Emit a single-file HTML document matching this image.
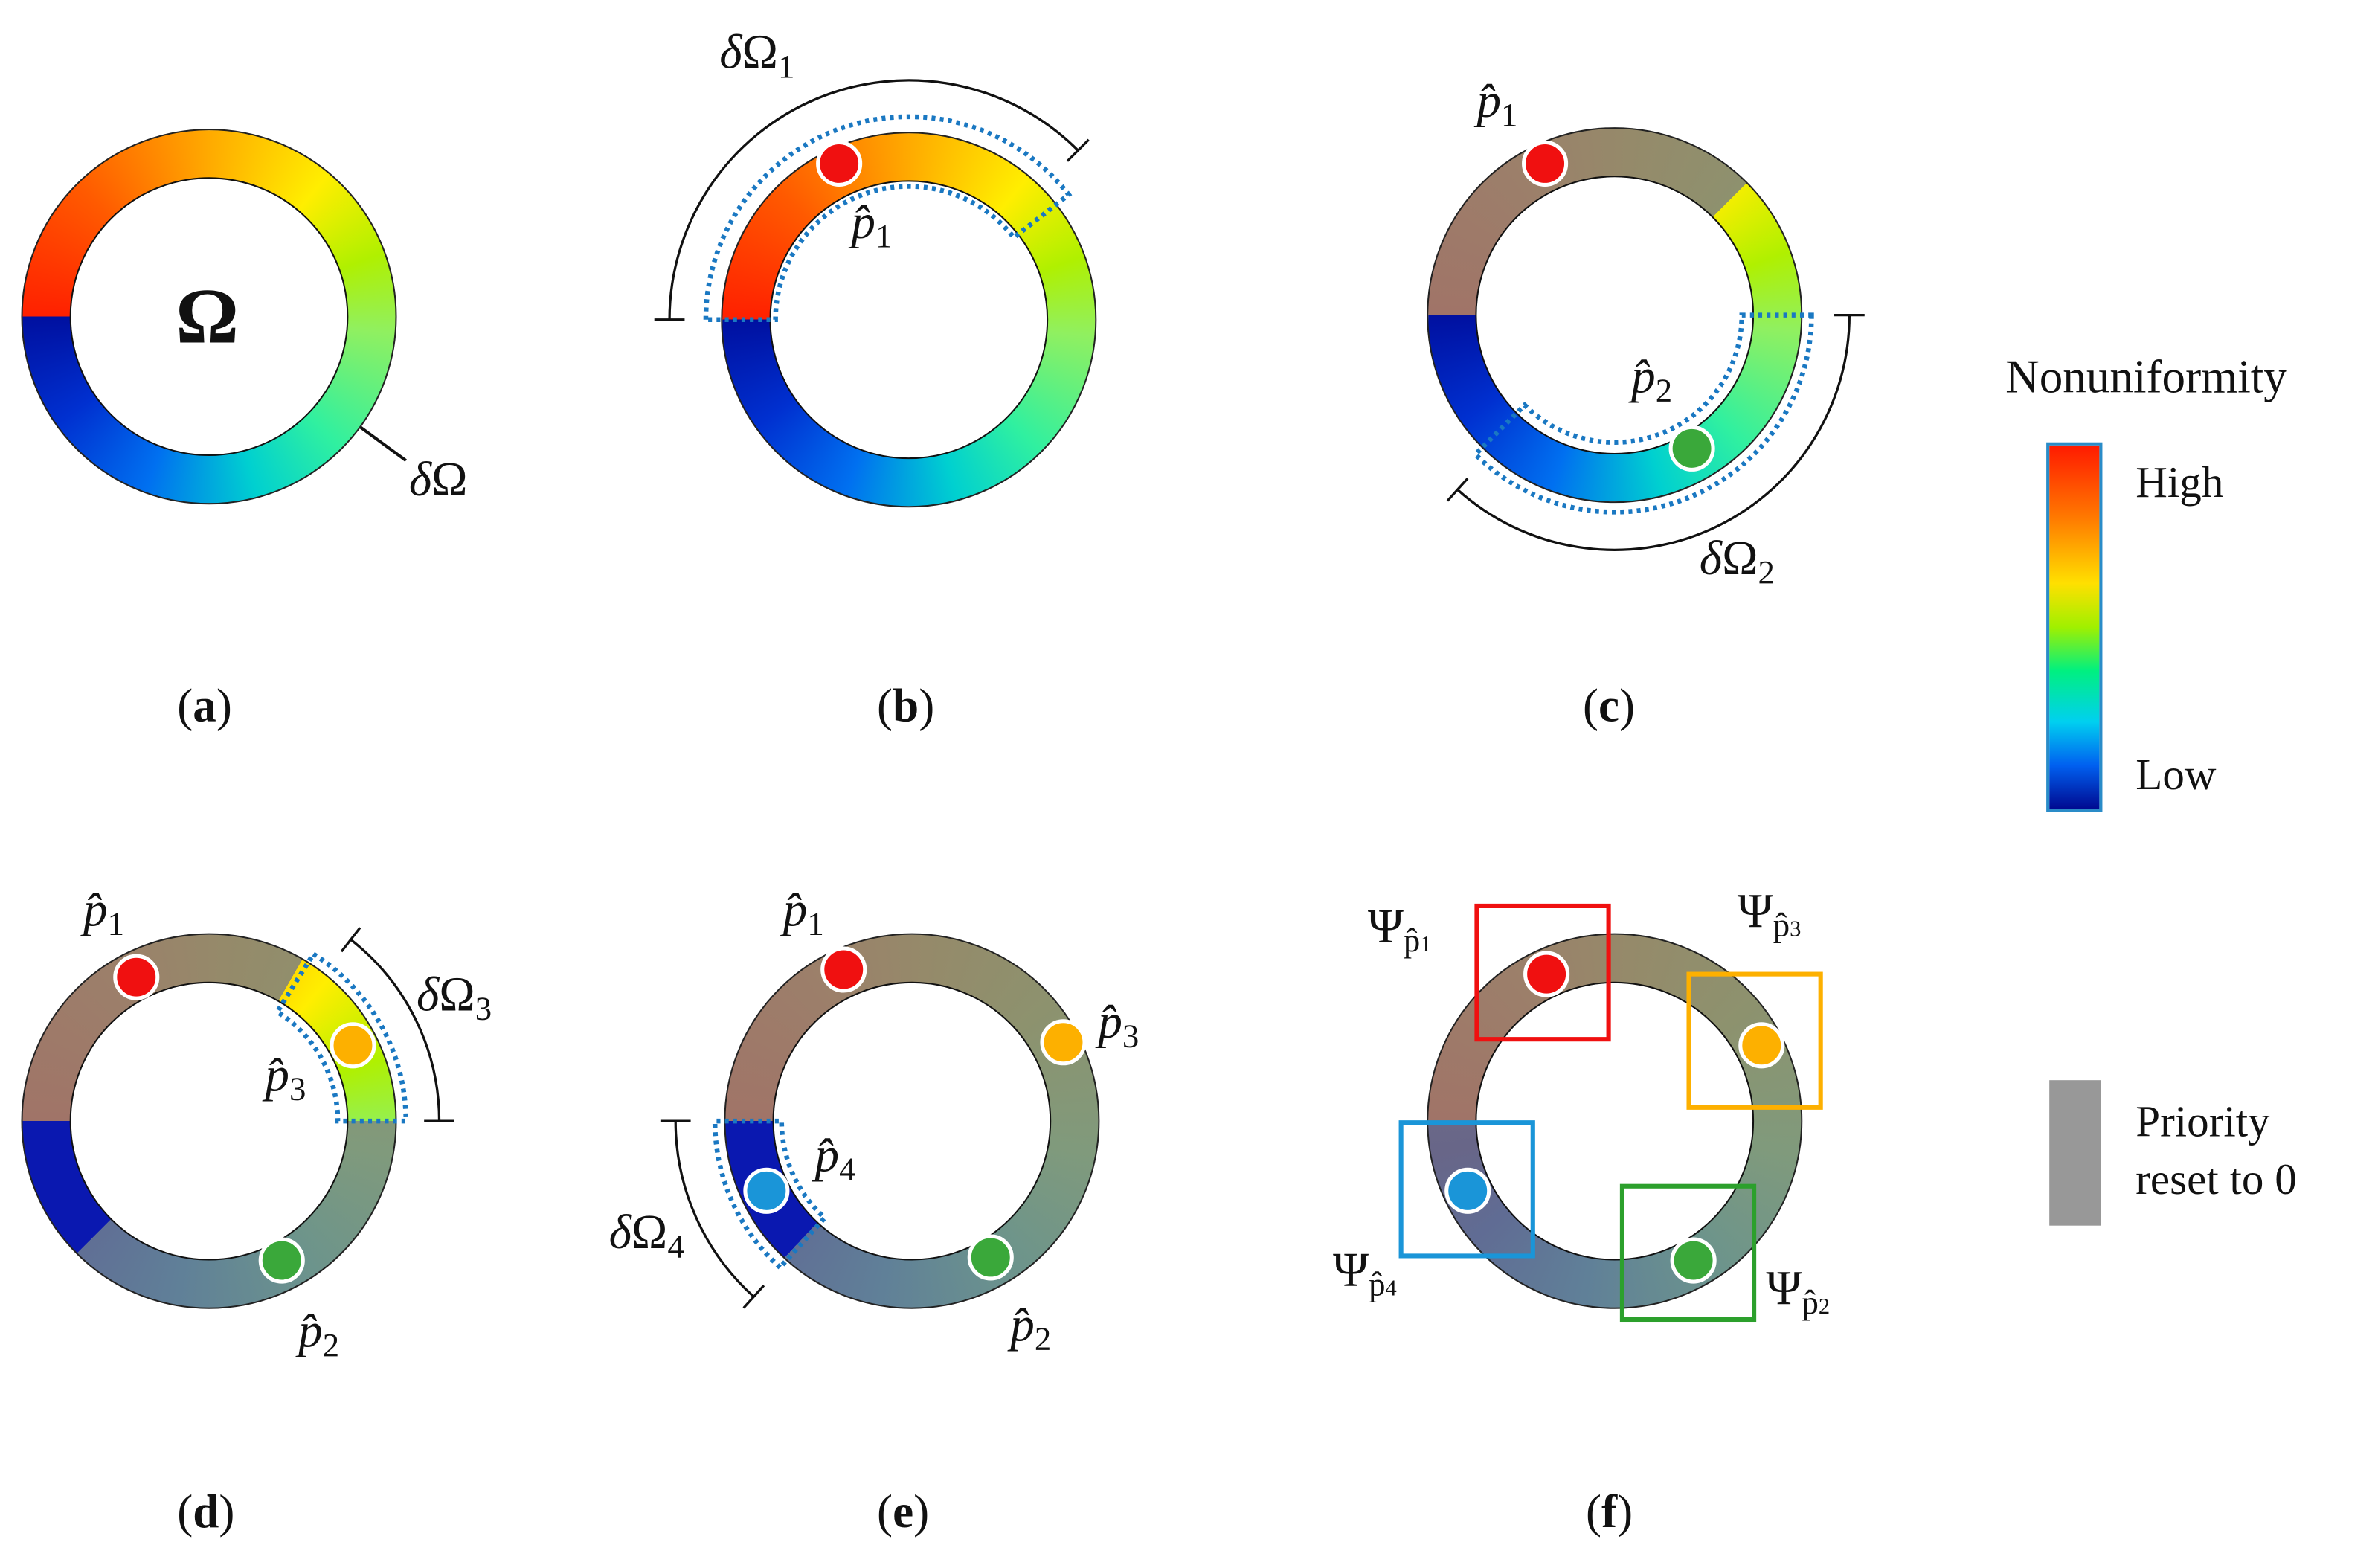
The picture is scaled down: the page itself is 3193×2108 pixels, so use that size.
<!DOCTYPE html>
<html><head><meta charset="utf-8"><style>
html,body{margin:0;padding:0;background:#fff;width:3193px;height:2108px;overflow:hidden}
#root{position:absolute;left:0;top:0;width:1568px;height:1035px;transform-origin:0 0;transform:scale(2.03635,2.0367)}
.ring{position:absolute;width:248px;height:248px;border-radius:50%;box-sizing:border-box;border:1.5px solid #222}
.hole{position:absolute;width:184px;height:184px;border-radius:50%;background:#fff;box-sizing:border-box;border:1.5px solid #111}
svg{position:absolute;left:0;top:0}
.t{position:absolute;font-family:"Liberation Serif",serif;color:#111;white-space:nowrap;line-height:1}
.m{font-style:italic;font-size:32px}
.m sub{font-style:normal;font-size:22px;vertical-align:-6px}
.u{font-style:normal}
.ps{font-style:italic;font-size:20px}
.ps span{font-style:normal;font-size:15px}
.cap{font-size:31px}
</style></head><body><div id="root">
<div id="rings"></div>
<svg id="ov" width="1568" height="1035" viewBox="0 0 1568 1035"></svg>

<div class="t" style="left:116px;top:184px;font-size:52px;font-weight:bold">Ω</div>
<div class="t m" style="left:270px;top:300px">δ<span class="u">Ω</span></div>
<div class="t m" style="left:475px;top:18px">δ<span class="u">Ω</span><sub>1</sub></div>
<div class="t m" style="left:562px;top:130px">p̂<sub>1</sub></div>
<div class="t m" style="left:975px;top:50px">p̂<sub>1</sub></div>
<div class="t m" style="left:1077px;top:232px">p̂<sub>2</sub></div>
<div class="t m" style="left:1122px;top:352px">δ<span class="u">Ω</span><sub>2</sub></div>
<div class="t m" style="left:55px;top:584px">p̂<sub>1</sub></div>
<div class="t m" style="left:275px;top:640px">δ<span class="u">Ω</span><sub>3</sub></div>
<div class="t m" style="left:175px;top:693px">p̂<sub>3</sub></div>
<div class="t m" style="left:197px;top:862px">p̂<sub>2</sub></div>
<div class="t m" style="left:517px;top:584px">p̂<sub>1</sub></div>
<div class="t m" style="left:725px;top:658px">p̂<sub>3</sub></div>
<div class="t m" style="left:538px;top:746px">p̂<sub>4</sub></div>
<div class="t m" style="left:402px;top:797px">δ<span class="u">Ω</span><sub>4</sub></div>
<div class="t m" style="left:667px;top:858px">p̂<sub>2</sub></div>
<div class="t m" style="left:903px;top:595px"><span class="u">Ψ</span><sub class="ps">p̂<span>1</span></sub></div>
<div class="t m" style="left:1147px;top:585px"><span class="u">Ψ</span><sub class="ps">p̂<span>3</span></sub></div>
<div class="t m" style="left:880px;top:822px"><span class="u">Ψ</span><sub class="ps">p̂<span>4</span></sub></div>
<div class="t m" style="left:1166px;top:834px"><span class="u">Ψ</span><sub class="ps">p̂<span>2</span></sub></div>

<div class="t cap" style="left:117px;top:450px">(<b>a</b>)</div>
<div class="t cap" style="left:579px;top:450px">(<b>b</b>)</div>
<div class="t cap" style="left:1045px;top:450px">(<b>c</b>)</div>
<div class="t cap" style="left:117px;top:982px">(<b>d</b>)</div>
<div class="t cap" style="left:579px;top:982px">(<b>e</b>)</div>
<div class="t cap" style="left:1047px;top:982px">(<b>f</b>)</div>

<div class="t" style="left:1324px;top:233px;font-size:31px">Nonuniformity</div>
<div style="position:absolute;left:1351px;top:292px;width:37px;height:244px;box-sizing:border-box;border:2px solid #2a8cc8;background:linear-gradient(#ff1a00,#ff7a00 20%,#ffe000 38%,#a0f000 50%,#00f080 62%,#00d0f0 76%,#0060f0 88%,#000a90)"></div>
<div class="t" style="left:1410px;top:305px;font-size:29px">High</div>
<div class="t" style="left:1410px;top:498px;font-size:29px">Low</div>
<div style="position:absolute;left:1353px;top:713px;width:34px;height:96px;background:#989898"></div>
<div class="t" style="left:1410px;top:727px;font-size:29px">Priority</div>
<div class="t" style="left:1410px;top:765px;font-size:29px">reset to 0</div>
</div>
<script>
var FULL=[['#ff2000',0],['#ff5a00',45],['#ffaa00',90],['#ffee00',130],['#b0f000',160],['#90f060',185],['#30f0a0',225],['#00d0d0',255],['#0070f0',290],['#0030d0',325],['#0010a0',360]];
var GRAY=[['#a07468',0],['#9c7f6a',55],['#958a6a',95],['#8d926e',140],['#809a7c',190],['#6c948c',235],['#608098',280],['#606c94',320],['#686688',350],['#6a6888',360]];
function grad(segs){
 var s=[];segs.forEach(function(g){var a0=g[0],a1=g[1];
  if(g[2]=='full'||g[2]=='gray'){var arr=g[2]=='full'?FULL:GRAY;
   s.push(interp(arr,a0)+' '+a0+'deg');arr.forEach(function(p){if(p[1]>a0&&p[1]<a1)s.push(p[0]+' '+p[1]+'deg')});s.push(interp(arr,a1)+' '+a1+'deg');}
  else{s.push(g[2]+' '+a0+'deg');s.push(g[2]+' '+a1+'deg');}});
 return 'conic-gradient(from 270deg,'+s.join(',')+')';}
function hex(h){return [parseInt(h.substr(1,2),16),parseInt(h.substr(3,2),16),parseInt(h.substr(5,2),16)]}
function interp(arr,a){for(var i=1;i<arr.length;i++){if(a<=arr[i][1]){var p=arr[i-1],q=arr[i],t=(a-p[1])/(q[1]-p[1]||1),A=hex(p[0]),B=hex(q[0]);return 'rgb('+[0,1,2].map(function(k){return Math.round(A[k]+(B[k]-A[k])*t)}).join(',')+')'}}return arr[arr.length-1][0]}
var R=[[138,209,[[0,360,'full']]],[600,211,[[0,360,'full']]],
 [1066,208,[[0,135,'gray'],[135,360,'full']]],
 [138,740,[[0,120,'gray'],[120,180,'full'],[180,315,'gray'],[315,360,'#0a18b0']]],
 [602,740,[[0,313,'gray'],[313,360,'#0a18b0']]],
 [1066,740,[[0,360,'gray']]]];
var h='';R.forEach(function(r){h+='<div class="ring" style="left:'+(r[0]-124)+'px;top:'+(r[1]-124)+'px;background:'+grad(r[2])+'"></div><div class="hole" style="left:'+(r[0]-92)+'px;top:'+(r[1]-92)+'px"></div>'});
document.getElementById('rings').innerHTML=h;
function P(cx,cy,r,a){a=a*Math.PI/180;return [cx+r*Math.sin(a),cy-r*Math.cos(a)]}
function arc(cx,cy,r,a0,a1){var p=P(cx,cy,r,a0),q=P(cx,cy,r,a1),d=((a1-a0)%360+360)%360;return 'M'+p[0]+' '+p[1]+' A'+r+' '+r+' 0 '+(d>180?1:0)+' 1 '+q[0]+' '+q[1]}
var s='';
function dotted(cx,cy,a0,a1,ri,ro){var p=P(cx,cy,ri,a0),v=P(cx,cy,ri,a1);
 s+='<path d="'+arc(cx,cy,ro,a0,a1)+' L'+v[0]+' '+v[1]+' A'+ri+' '+ri+' 0 0 0 '+p[0]+' '+p[1]+' Z" fill="none" stroke="#1a78c2" stroke-width="3.2" stroke-dasharray="2.5 3"/>';}
function bracket(cx,cy,r,a0,a1){s+='<path d="'+arc(cx,cy,r,a0,a1)+'" fill="none" stroke="#111" stroke-width="1.6"/>';
 [a0,a1].forEach(function(a){var p=P(cx,cy,r-10,a),q=P(cx,cy,r+10,a);s+='<line x1="'+p[0]+'" y1="'+p[1]+'" x2="'+q[0]+'" y2="'+q[1]+'" stroke="#111" stroke-width="1.6"/>'})}
dotted(600,211,270,52,88,134);bracket(600,211,158,270,45);
dotted(1066,208,90,225,84,130);bracket(1066,208,155,90,222);
dotted(138,740,32,90,85,130);bracket(138,740,152,38,90);
dotted(602,740,222,270,86,130);bracket(602,740,156,222,270);
s+='<line x1="238" y1="282" x2="268" y2="304" stroke="#111" stroke-width="2"/>';
function dot(x,y,c){s+='<circle cx="'+x+'" cy="'+y+'" r="14" fill="'+c+'" stroke="#fff" stroke-width="2.5"/>'}
var RED='#f01010',OR='#fdb000',GR='#3aa83a',BL='#1a95d8';
dot(554,108,RED);dot(1020,108,RED);dot(1117,296,GR);
dot(90,645,RED);dot(233,690,OR);dot(186,832,GR);
dot(557,640,RED);dot(702,688,OR);dot(654,830,GR);dot(506,786,BL);
dot(1021,643,RED);dot(1163,690,OR);dot(1118,832,GR);dot(969,786,BL);
function box(x,y,c){s+='<rect x="'+x+'" y="'+y+'" width="87" height="88" fill="none" stroke="'+c+'" stroke-width="3"/>'}
box(975,598,'#f01010');box(1115,643,'#fdb000');box(925,741,'#1a95d8');box(1071,783,'#2ca02c');
document.getElementById('ov').innerHTML=s;
</script>
</body></html>
